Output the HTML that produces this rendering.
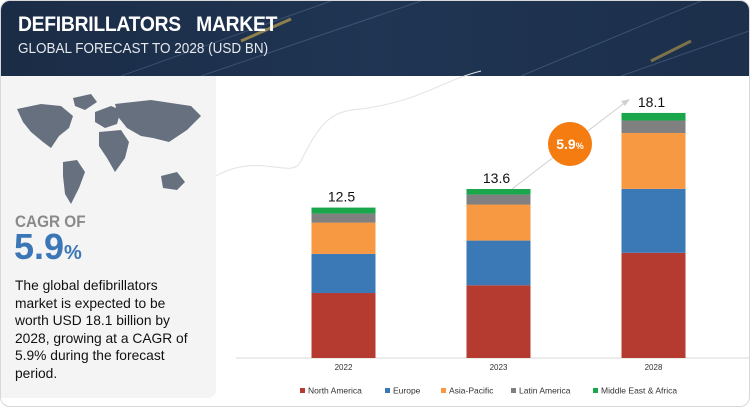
<!DOCTYPE html>
<html><head><meta charset="utf-8">
<style>
body{margin:0;width:750px;height:407px;overflow:hidden;background:#fff;font-family:"Liberation Sans",sans-serif;}
#wrap{position:relative;width:748px;height:405px;border:1px solid #d8d8d8;border-radius:10px;overflow:hidden;background:#fff}
#hdr{position:absolute;left:0;top:0;width:748px;height:75px;background:linear-gradient(90deg,#1b2c46 0%,#1f3553 50%,#1c2f4b 100%)}
#hdr .t1{position:absolute;left:17px;top:12px;color:#fff;font-weight:bold;font-size:21px;letter-spacing:-0.3px;transform:scaleX(0.92);transform-origin:left}
#hdr .t2{position:absolute;left:17px;top:39px;color:#e6e9ee;font-size:15px;transform:scaleX(0.9);transform-origin:left}
#left{position:absolute;left:0;top:75px;width:215px;height:322px;background:#f4f4f4;border-bottom-right-radius:8px}
.cagr{position:absolute;left:14px;color:#8a8a8a;font-weight:bold;font-size:17px;transform:scaleX(0.9);transform-origin:left}
.big{position:absolute;left:13px;color:#3b76b6;font-size:36px;font-weight:bold}
.big span{font-size:20px}
.para{position:absolute;left:14px;font-size:13.8px;line-height:17.6px;color:#111;white-space:nowrap}
</style></head><body>
<div id="wrap">
<div id="hdr">
<svg width="748" height="75" style="position:absolute;left:0;top:0">
<path d="M120 75 L330 0 M200 75 L420 0 M520 75 L700 0 M620 75 L748 30" stroke="#5a7292" stroke-width="1" opacity="0.5"/>
<path d="M240 40 L290 18" stroke="#d9b24a" stroke-width="3" opacity="0.6"/>
<path d="M650 60 L690 40" stroke="#d9b24a" stroke-width="3" opacity="0.5"/>
</svg>
<div class="t1">DEFIBRILLATORS &nbsp;&nbsp;MARKET</div>
<div class="t2">GLOBAL FORECAST TO 2028 (USD BN)</div>
</div>
<div id="left">
<svg width="215" height="140" style="position:absolute;left:0;top:0">
<g fill="#66707f">
<path d="M16 33 L40 28 L60 30 L72 40 L68 52 L58 60 L50 72 L42 66 L30 56 L22 46 Z"/>
<path d="M72 22 L90 18 L96 26 L84 34 L74 30 Z"/>
<path d="M62 86 L76 84 L84 96 L78 112 L70 128 L64 118 L62 100 Z"/>
<path d="M94 36 L110 30 L120 34 L116 48 L104 52 L94 46 Z"/>
<path d="M98 56 L120 54 L128 66 L124 82 L114 96 L106 82 L98 70 Z"/>
<path d="M114 28 L150 24 L190 30 L200 40 L186 54 L168 66 L152 62 L140 60 L126 52 L118 42 Z"/>
<path d="M160 100 L176 96 L184 106 L176 114 L162 112 Z"/>
</g>
</svg>
<div class="cagr" style="top:136px">CAGR OF</div>
<div class="big" style="top:150px">5.9<span>%</span></div>
<div class="para" style="top:201px">The global defibrillators<br>market is expected to be<br>worth USD 18.1 billion by<br>2028, growing at a CAGR of<br>5.9% during the forecast<br>period.</div>
</div>
<svg id="chart" width="748" height="405" style="position:absolute;left:0;top:0"></svg>
</div>
<script>
const categories=["2022","2023","2028"];
const northAmerica=[5.4,5.85,7.77];
const europe=[3.25,3.6,4.72];
const asiaPacific=[2.6,2.9,4.13];
const latinAmerica=[0.75,0.8,0.92];
const middleEastAfrica=[0.5,0.45,0.56];
const totalLabels=["12.5","13.6","18.1"];
const seriesNames=["North America","Europe","Asia-Pacific","Latin America","Middle East & Africa"];
const cagrLabel="5.9";

const series=[northAmerica,europe,asiaPacific,latinAmerica,middleEastAfrica];
const colors=["#b53b31","#3a78b6","#f79843","#808080","#1aa64b"];
const svg=document.getElementById('chart');
const NS='http://www.w3.org/2000/svg';
const baseY=357, plotLeft=265, plotRight=730, barW=64;
function xBand(i){const step=(plotRight-plotLeft)/categories.length;return plotLeft+step*i+step/2;}
function yTotal(v){return baseY-(v-3.6)*16.9;}
function mk(tag,attrs){const e=document.createElementNS(NS,tag);for(const k in attrs)e.setAttribute(k,attrs[k]);svg.appendChild(e);return e;}
const ax=mk('line',{x1:235,x2:748,y1:baseY,y2:baseY,stroke:'#d9d9d9'});


const dc=mk('path',{d:'M215 175 C260 150 290 180 300 160 C320 120 330 110 360 108 C420 100 440 80 480 70',fill:'none',stroke:'#e2e2e2'});


categories.forEach((c,i)=>{
  const cx=xBand(i);
  let total=0;series.forEach(s=>total+=s[i]);
  const h=baseY-yTotal(total);
  let y=baseY;
  series.forEach((s,j)=>{
    const sh=s[i]/total*h;
    const r=mk('rect',{x:cx-barW/2,y:y-sh,width:barW,height:sh,fill:colors[j]});
    
    
    y-=sh;
  });
  const tl=mk('text',{x:cx-2,y:y-6,'text-anchor':'middle','font-size':'14','fill':'#111','font-family':'Liberation Sans, sans-serif'});
  tl.textContent=totalLabels[i];
  
  
  const xl=mk('text',{x:cx,y:baseY+12,'text-anchor':'middle','font-size':'8','fill':'#333','font-family':'Liberation Sans, sans-serif'});
  xl.textContent=c;
  
  
});
const ar=mk('line',{x1:511,y1:188,x2:626,y2:100,stroke:'#d0d0d0','stroke-width':1});


const ah=mk('path',{d:'M629 98 L620 100 L624 105 Z',fill:'#d0d0d0'});


const bub=mk('circle',{cx:569,cy:143,r:22,fill:'#f57c10'});


const bt=mk('text',{x:569,y:148,'text-anchor':'middle','font-size':'14','font-weight':'bold',fill:'#fff','font-family':'Liberation Sans, sans-serif'});
bt.innerHTML=cagrLabel+'<tspan font-size="9">%</tspan>';


const legX=[299,384,440,510,592];
seriesNames.forEach((n,j)=>{
  const sq=mk('rect',{x:legX[j],y:387,width:5,height:5,fill:colors[j]});
  
  
  const t=mk('text',{x:legX[j]+8,y:392.5,'font-size':'8.5',fill:'#333','font-family':'Liberation Sans, sans-serif'});
  t.textContent=n;
  
  
});
</script>
</body></html>
